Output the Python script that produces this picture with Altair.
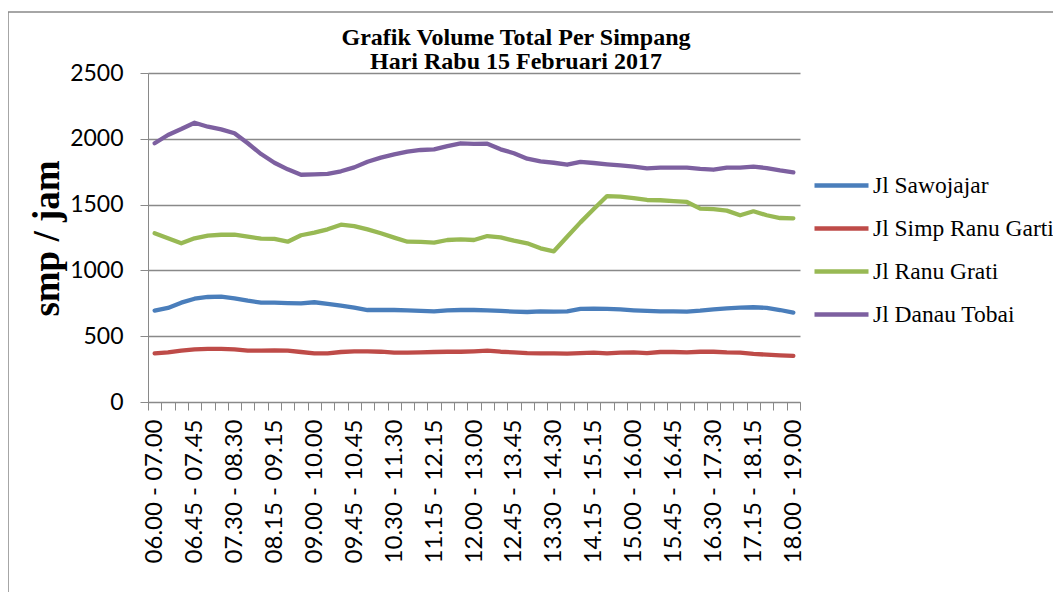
import altair as alt
import pandas as pd

categories = [
    "06.00 - 07.00", "06.15 - 07.15", "06.30 - 07.30", "06.45 - 07.45",
    "07.00 - 08.00", "07.15 - 08.15", "07.30 - 08.30", "07.45 - 08.45",
    "08.00 - 09.00", "08.15 - 09.15", "08.30 - 09.30", "08.45 - 09.45",
    "09.00 - 10.00", "09.15 - 10.15", "09.30 - 10.30", "09.45 - 10.45",
    "10.00 - 11.00", "10.15 - 11.15", "10.30 - 11.30", "10.45 - 11.45",
    "11.00 - 12.00", "11.15 - 12.15", "11.30 - 12.30", "11.45 - 12.45",
    "12.00 - 13.00", "12.15 - 13.15", "12.30 - 13.30", "12.45 - 13.45",
    "13.00 - 14.00", "13.15 - 14.15", "13.30 - 14.30", "13.45 - 14.45",
    "14.00 - 15.00", "14.15 - 15.15", "14.30 - 15.30", "14.45 - 15.45",
    "15.00 - 16.00", "15.15 - 16.15", "15.30 - 16.30", "15.45 - 16.45",
    "16.00 - 17.00", "16.15 - 17.15", "16.30 - 17.30", "16.45 - 17.45",
    "17.00 - 18.00", "17.15 - 18.15", "17.30 - 18.30", "17.45 - 18.45",
    "18.00 - 19.00",
]

shown_labels = categories[::3]

title_lines = ["Grafik Volume Total Per Simpang", "Hari Rabu 15 Februari 2017"]

series_names = ["Jl Sawojajar", "Jl Simp Ranu Garti", "Jl Ranu Grati", "Jl Danau Tobai"]
series_colors = ["#4A7EBB", "#BE4B48", "#98B954", "#7D60A0"]

sawojajar = [695, 715, 755, 785, 798, 800, 788, 770, 755, 755, 752, 750, 758,
             745, 732, 717, 699, 699, 699, 697, 692, 689, 697, 699, 699, 697,
             692, 687, 684, 689, 687, 689, 707, 709, 707, 704, 697, 692, 689,
             689, 687, 694, 704, 712, 717, 720, 715, 699, 679]

simp_ranu_garti = [370, 377, 390, 400, 403, 403, 400, 390, 390, 392, 390, 380,
                   370, 370, 380, 385, 385, 382, 375, 375, 377, 380, 382, 382,
                   385, 390, 382, 377, 372, 370, 370, 367, 372, 375, 370, 375,
                   377, 372, 380, 380, 377, 382, 382, 377, 375, 365, 360, 355,
                   350]

ranu_grati = [1282, 1244, 1206, 1244, 1264, 1271, 1271, 1256, 1241, 1239, 1218,
              1267, 1287, 1312, 1347, 1337, 1312, 1282, 1249, 1218, 1216, 1211,
              1231, 1236, 1231, 1261, 1251, 1226, 1206, 1168, 1145, 1256, 1365,
              1466, 1565, 1560, 1550, 1535, 1533, 1527, 1520, 1469, 1466, 1454,
              1419, 1449, 1419, 1398, 1396]

danau_tobai = [1966, 2029, 2074, 2122, 2092, 2072, 2042, 1966, 1884, 1818, 1768,
               1727, 1730, 1733, 1753, 1783, 1826, 1857, 1882, 1902, 1915, 1920,
               1945, 1966, 1962, 1963, 1920, 1890, 1849, 1829, 1818, 1803, 1824,
               1816, 1806, 1798, 1788, 1776, 1781, 1781, 1781, 1771, 1765, 1781,
               1781, 1788, 1778, 1760, 1745]

y_ticks = [0, 500, 1000, 1500, 2000, 2500]

rows = []
for name, vals in zip(series_names, [sawojajar, simp_ranu_garti, ranu_grati, danau_tobai]):
    for cat, v in zip(categories, vals):
        rows.append({"waktu": cat, "series": name, "value": v})
df = pd.DataFrame(rows)

grey = "#898989"
label_expr = "indexof(" + str(shown_labels).replace("'", '"') + ", datum.value) >= 0 ? datum.label : ''"

lines = alt.Chart(df).mark_line(strokeWidth=4.3, strokeJoin="round", strokeCap="round").encode(
    x=alt.X("waktu:N", sort=categories,
            scale=alt.Scale(domain=categories, paddingInner=0, paddingOuter=0),
            axis=alt.Axis(title=None, labelAngle=270, labelAlign="right", labelBaseline="middle",
                          labelExpr=label_expr, tickBand="extent", tickSize=8,
                          labelPadding=9, labelFont="Lato", labelFontSize=24,
                          labelColor="black", domainColor=grey, tickColor=grey,
                          labelOverlap=False, grid=False)),
    y=alt.Y("value:Q", scale=alt.Scale(domain=[0, 2500], nice=False),
            axis=alt.Axis(title="smp / jam", values=y_ticks, format="d", tickSize=8, labelPadding=17,
                          labelFont="Lato", labelFontSize=23, labelColor="black",
                          domainColor=grey, tickColor=grey, gridColor=grey, gridWidth=1.3,
                          titleFont="Liberation Serif", titleFontSize=37, titleFontWeight="bold",
                          titleColor="black", titleX=-101, titleY=165, titleAngle=270,
                          titleBaseline="middle", titleAlign="center")),
    color=alt.Color("series:N", sort=series_names,
                    scale=alt.Scale(domain=series_names, range=series_colors),
                    legend=alt.Legend(title=None, orient="none", legendX=664, legendY=83,
                                      symbolType="stroke", symbolSize=2916, symbolStrokeWidth=4.3,
                                      labelFont="Liberation Serif", labelFontSize=23.5,
                                      labelColor="black", labelOffset=2, rowPadding=2,
                                      padding=0, labelLimit=400)),
)

one_row = pd.DataFrame({"k": [0]})
frame = alt.Chart(one_row).mark_rect(fill=None, stroke=grey, strokeWidth=1.5).encode(
    x=alt.value(-140), x2=alt.value(1200), y=alt.value(-61), y2=alt.value(900)
)

title = alt.Chart(one_row).mark_text(
    font="Liberation Serif", fontSize=24, fontWeight="bold", color="black",
    align="center", baseline="alphabetic", lineHeight=24,
).encode(x=alt.value(368), y=alt.value(-28), text=alt.value(title_lines))

chart = alt.layer(frame, title, lines).properties(
    width=652, height=329,
    autosize=alt.AutoSizeParams(type="none"),
    padding={"left": 140, "top": 65, "right": 253, "bottom": 190},
).configure_view(stroke=None)

chart.save("out.html", embed_options={"renderer": "svg", "actions": False})
